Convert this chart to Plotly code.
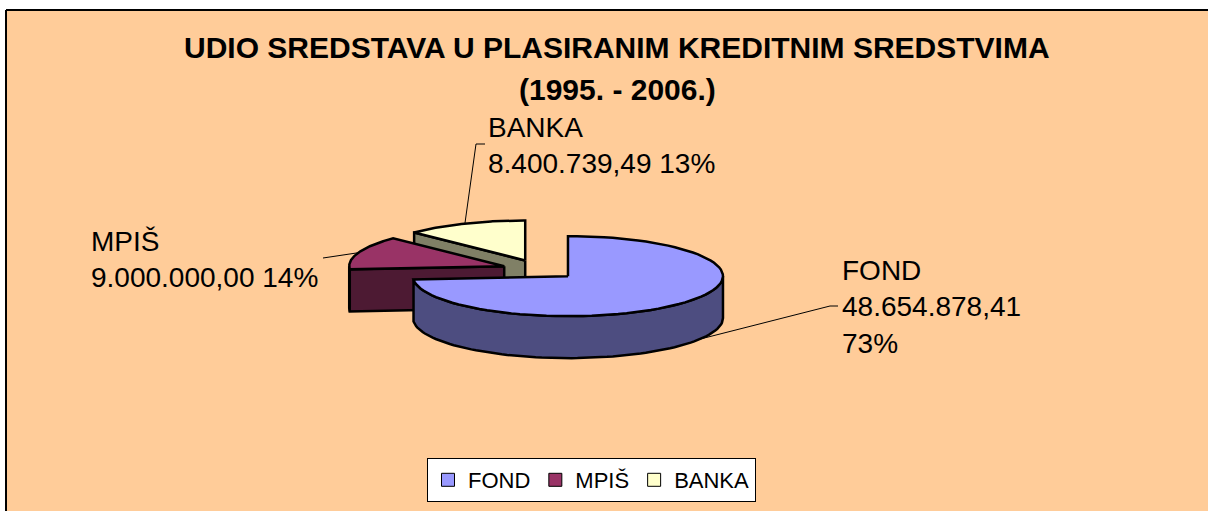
import numpy as np
import plotly.graph_objects as go

# ---------------- data ----------------
categories = ["FOND", "MPIŠ", "BANKA"]
values = [48654878.41, 9000000.00, 8400739.49]
pct_labels = ["73%", "14%", "13%"]
label_breaks = ["<br>", " ", " "]
title_lines = ["UDIO SREDSTAVA U PLASIRANIM KREDITNIM SREDSTVIMA", "(1995. - 2006.)"]

# ---------------- style / layout ----------------
top_colors = ["#9999FF", "#993366", "#FFFFCC"]
side_colors = ["#4D4D80", "#4D1A33", "#808066"]
BG = "#FFCC99"
FONT = "Liberation Sans, Arial, sans-serif"
W, H = 1208, 511
CX, CY = 540.0, 269.5      # pie centre (pixel space)
RX, RY = 155.0, 40.0       # ellipse radii of the tilted pie
DEPTH = 42.0               # thickness of the 3D pie
EXPLODE = 38.0             # explosion distance (plan units)
K = RY / RX
FRAME_L, FRAME_T = 6, 10   # chart-area frame offset (pixels)

label_pos = [(840, 253), (89, 224), (486, 110)]          # top-left of each data label
leader_ends = [[(830, 306), (838, 306)], [(323, 258)], [(476, 144), (485, 144)]]
leader_shift = [11.0, 0.0, 0.0]
leader_dz = [DEPTH, 0.0, 0.0]


def fmt_num(v):
    s = f"{v:,.2f}"
    return s.replace(",", "X").replace(".", ",").replace("X", ".")


def pt(cx, cy, a_deg, dz=0.0):
    a = np.radians(a_deg)
    return cx + RX * np.cos(a), cy - RY * np.sin(a) + dz


def arc(cx, cy, a_from, a_to, dz=0.0, n=80):
    aa = np.linspace(a_from, a_to, n)
    xs, ys = pt(cx, cy, aa, dz)
    return list(xs), list(ys)


fig = go.Figure()

total = float(sum(values))
fracs = [v / total for v in values]
cum = np.concatenate([[0.0], np.cumsum(fracs)])

slices = []
for i, cat in enumerate(categories):
    a0 = 90.0 - cum[i] * 360.0
    a1 = 90.0 - cum[i + 1] * 360.0
    mid = (a0 + a1) / 2.0
    cx = CX + EXPLODE * np.cos(np.radians(mid))
    cy = CY - EXPLODE * np.sin(np.radians(mid)) * K
    slices.append(dict(i=i, a0=a0, a1=a1, mid=mid, cx=cx, cy=cy))

LW = 2.5
# draw back to front: BANKA, MPIŠ, FOND
for s in reversed(slices):
    i, a0, a1, cx, cy = s["i"], s["a0"], s["a1"], s["cx"], s["cy"]
    polys = []
    # outer curved side, only the front half is visible
    for k in (-1, 0, 1):
        lo = max(a1, -180.0 + 360.0 * k)
        hi = min(a0, 0.0 + 360.0 * k)
        if hi > lo:
            xt, yt = arc(cx, cy, hi, lo)
            xb, yb = arc(cx, cy, lo, hi, DEPTH)
            polys.append((xt + xb + [xt[0]], yt + yb + [yt[0]]))
    # radial cut faces
    for a, vis in ((a0, np.cos(np.radians(a0)) < -1e-6), (a1, np.cos(np.radians(a1)) > 1e-6)):
        if vis:
            ox, oy = pt(cx, cy, a)
            bx, by = pt(cx, cy, a, DEPTH)
            polys.append(([cx, ox, bx, cx, cx], [cy, oy, by, cy + DEPTH, cy]))
    for xs, ys in polys:
        fig.add_trace(go.Scatter(x=xs, y=ys, mode="lines", fill="toself",
                                 fillcolor=side_colors[i],
                                 line=dict(color="black", width=LW),
                                 hoverinfo="skip", showlegend=False))
    # top face
    xa, ya = arc(cx, cy, a0, a1)
    fig.add_trace(go.Scatter(x=[cx] + xa + [cx], y=[cy] + ya + [cy], mode="lines",
                             fill="toself", fillcolor=top_colors[i],
                             line=dict(color="black", width=LW),
                             name=categories[i], hoverinfo="name", showlegend=False))

# leader lines
for s in slices:
    i = s["i"]
    sx, sy = pt(s["cx"], s["cy"], s["mid"] + leader_shift[i], leader_dz[i])
    xs = [sx] + [p[0] for p in leader_ends[i]]
    ys = [sy] + [p[1] for p in leader_ends[i]]
    fig.add_trace(go.Scatter(x=xs, y=ys, mode="lines", line=dict(color="black", width=1),
                             hoverinfo="skip", showlegend=False))

# legend entries
for i, cat in enumerate(categories):
    fig.add_trace(go.Scatter(x=[None], y=[None], mode="markers", name=cat,
                             marker=dict(symbol="square", size=13, color=top_colors[i],
                                         line=dict(color="black", width=1))))

annotations = []
for i, cat in enumerate(categories):
    txt = f"{cat}<br>{fmt_num(values[i])}{label_breaks[i]}{pct_labels[i]}"
    annotations.append(dict(x=label_pos[i][0], y=label_pos[i][1], xref="x", yref="y",
                            text=txt, showarrow=False, xanchor="left", yanchor="top",
                            align="left", font=dict(family=FONT, size=28, color="black")))

annotations.append(dict(x=617, y=29, xref="x", yref="y", text=f"<b>{title_lines[0]}</b>",
                        showarrow=False, xanchor="center", yanchor="top",
                        font=dict(family=FONT, size=30, color="black")))
annotations.append(dict(x=617, y=71, xref="x", yref="y", text=f"<b>{title_lines[1]}</b>",
                        showarrow=False, xanchor="center", yanchor="top",
                        font=dict(family=FONT, size=30, color="black")))

fl, ft = FRAME_L / W, 1 - FRAME_T / H
fig.update_layout(
    width=W, height=H, autosize=False,
    margin=dict(l=0, r=0, t=0, b=0),
    paper_bgcolor=BG, plot_bgcolor=BG,
    xaxis=dict(range=[0, W], visible=False, fixedrange=True),
    yaxis=dict(range=[H, 0], visible=False, fixedrange=True),
    shapes=[
        dict(type="rect", xref="paper", yref="paper", x0=-0.1, x1=fl, y0=-0.1, y1=1.1,
             fillcolor="white", line=dict(width=0), layer="below"),
        dict(type="rect", xref="paper", yref="paper", x0=-0.1, x1=1.1, y0=ft, y1=1.1,
             fillcolor="white", line=dict(width=0), layer="below"),
        dict(type="line", xref="paper", yref="paper", x0=fl, x1=1.1, y0=ft, y1=ft,
             line=dict(color="black", width=2), layer="below"),
        dict(type="line", xref="paper", yref="paper", x0=fl, x1=fl, y0=-0.1, y1=ft,
             line=dict(color="black", width=2), layer="below"),
    ],
    annotations=annotations,
    showlegend=True,
    legend=dict(orientation="h", x=591.5 / W, xanchor="center", y=1 - 458 / H, yanchor="top",
                bgcolor="white", bordercolor="black", borderwidth=1,
                font=dict(family=FONT, size=22, color="black"), itemclick=False),
)

fig.write_html("out.html", config={"displayModeBar": False},
               post_script="document.body.style.margin='0';document.body.style.overflow='hidden';")
